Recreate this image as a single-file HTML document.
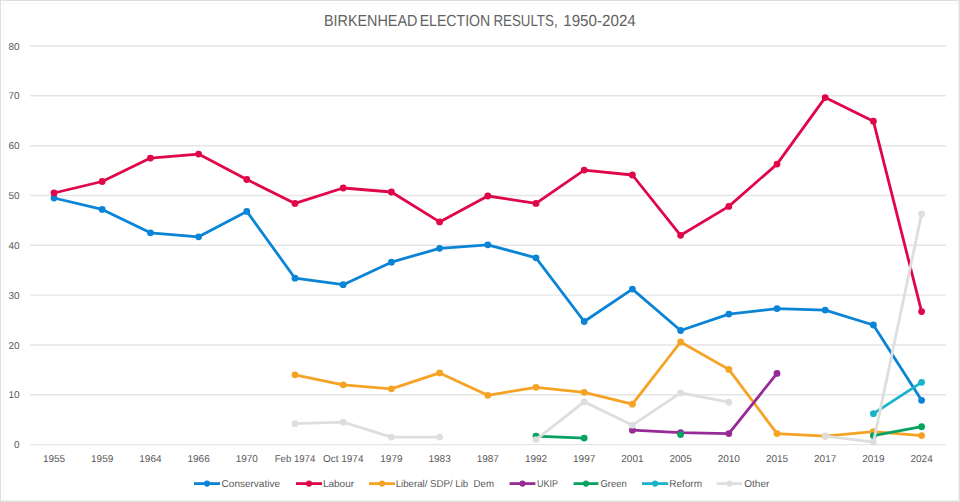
<!DOCTYPE html>
<html><head><meta charset="utf-8"><style>
html,body{margin:0;padding:0;background:#fff;}
body{width:960px;height:502px;overflow:hidden;position:relative;}
svg{position:absolute;left:0;top:0;display:block;}
text{font-family:"Liberation Sans",Arial,sans-serif;fill:#595959;text-rendering:geometricPrecision;}
</style></head><body>
<svg width="960" height="502" viewBox="0 0 960 502">
<rect x="0" y="0" width="960" height="502" fill="#fff"/>
<g shape-rendering="crispEdges">
<rect x="0" y="3" width="960" height="1" fill="#f8f8f8"/>
<rect x="3" y="0" width="1" height="502" fill="#f8f8f8"/>
<rect x="0" y="500" width="960" height="1" fill="#f1f1f1"/>
<rect x="958" y="0" width="1" height="502" fill="#f1f1f1"/>
<rect x="0" y="0" width="960" height="1" fill="#dedede"/>
<rect x="0" y="0" width="1" height="502" fill="#dedede"/>
<rect x="0" y="501" width="960" height="1" fill="#e0e0e0"/>
<rect x="959" y="0" width="1" height="502" fill="#e0e0e0"/>
</g>
<g font-size="16"><text y="25.8" style="fill:#626262"><tspan x="324" textLength="93.4" lengthAdjust="spacingAndGlyphs">BIRKENHEAD</tspan> <tspan x="419.7" textLength="70.6" lengthAdjust="spacingAndGlyphs">ELECTION</tspan> <tspan x="493.4" textLength="64.2" lengthAdjust="spacingAndGlyphs">RESULTS,</tspan> <tspan x="563.25" textLength="72.5" lengthAdjust="spacingAndGlyphs">1950-2024</tspan></text></g>
<g stroke="#e5e5e5" stroke-width="1.4">
<line x1="30" y1="444.6" x2="946" y2="444.6"/>
<line x1="30" y1="394.8" x2="946" y2="394.8"/>
<line x1="30" y1="345" x2="946" y2="345"/>
<line x1="30" y1="295.1" x2="946" y2="295.1"/>
<line x1="30" y1="245.3" x2="946" y2="245.3"/>
<line x1="30" y1="195.5" x2="946" y2="195.5"/>
<line x1="30" y1="145.7" x2="946" y2="145.7"/>
<line x1="30" y1="95.8" x2="946" y2="95.8"/>
<line x1="30" y1="46" x2="946" y2="46"/>
</g>
<g font-size="10" text-anchor="end">
<text x="19.5" y="448.1">0</text>
<text x="19.5" y="398.3">10</text>
<text x="19.5" y="348.5">20</text>
<text x="19.5" y="298.6">30</text>
<text x="19.5" y="248.8">40</text>
<text x="19.5" y="199">50</text>
<text x="19.5" y="149.2">60</text>
<text x="19.5" y="99.3">70</text>
<text x="19.5" y="49.5">80</text>
</g>
<g font-size="10" text-anchor="middle">
<text x="54" y="462">1955</text>
<text x="102.2" y="462">1959</text>
<text x="150.4" y="462">1964</text>
<text x="198.6" y="462">1966</text>
<text x="246.8" y="462">1970</text>
<text x="295" y="462" textLength="40.6" lengthAdjust="spacingAndGlyphs">Feb 1974</text>
<text x="343.2" y="462">Oct 1974</text>
<text x="391.4" y="462">1979</text>
<text x="439.6" y="462">1983</text>
<text x="487.8" y="462">1987</text>
<text x="536" y="462">1992</text>
<text x="584.2" y="462">1997</text>
<text x="632.4" y="462">2001</text>
<text x="680.6" y="462">2005</text>
<text x="728.8" y="462">2010</text>
<text x="777" y="462">2015</text>
<text x="825.2" y="462">2017</text>
<text x="873.4" y="462">2019</text>
<text x="921.6" y="462">2024</text>
</g>
<g stroke="#0a84d6" fill="#0a84d6">
<polyline fill="none" stroke-width="2.8" stroke-linejoin="round" stroke-linecap="round" points="54,198 102.2,209.4 150.4,232.8 198.6,236.8 246.8,211.4 295,278.2 343.2,284.7 391.4,262.2 439.6,248.3 487.8,244.8 536,257.8 584.2,321.5 632.4,289.1 680.6,330.5 728.8,314.1 777,308.6 825.2,310.1 873.4,325 921.6,400.3"/>
<circle cx="54" cy="198" r="3.4" stroke="none"/>
<circle cx="102.2" cy="209.4" r="3.4" stroke="none"/>
<circle cx="150.4" cy="232.8" r="3.4" stroke="none"/>
<circle cx="198.6" cy="236.8" r="3.4" stroke="none"/>
<circle cx="246.8" cy="211.4" r="3.4" stroke="none"/>
<circle cx="295" cy="278.2" r="3.4" stroke="none"/>
<circle cx="343.2" cy="284.7" r="3.4" stroke="none"/>
<circle cx="391.4" cy="262.2" r="3.4" stroke="none"/>
<circle cx="439.6" cy="248.3" r="3.4" stroke="none"/>
<circle cx="487.8" cy="244.8" r="3.4" stroke="none"/>
<circle cx="536" cy="257.8" r="3.4" stroke="none"/>
<circle cx="584.2" cy="321.5" r="3.4" stroke="none"/>
<circle cx="632.4" cy="289.1" r="3.4" stroke="none"/>
<circle cx="680.6" cy="330.5" r="3.4" stroke="none"/>
<circle cx="728.8" cy="314.1" r="3.4" stroke="none"/>
<circle cx="777" cy="308.6" r="3.4" stroke="none"/>
<circle cx="825.2" cy="310.1" r="3.4" stroke="none"/>
<circle cx="873.4" cy="325" r="3.4" stroke="none"/>
<circle cx="921.6" cy="400.3" r="3.4" stroke="none"/>
</g>
<g stroke="#e0064a" fill="#e0064a">
<polyline fill="none" stroke-width="2.8" stroke-linejoin="round" stroke-linecap="round" points="54,193 102.2,181.5 150.4,158.1 198.6,154.1 246.8,179.5 295,203.4 343.2,188 391.4,192 439.6,221.9 487.8,196 536,203.4 584.2,170.1 632.4,175 680.6,235.3 728.8,206.4 777,164.1 825.2,97.6 873.4,121.2 921.6,311.6"/>
<circle cx="54" cy="193" r="3.4" stroke="none"/>
<circle cx="102.2" cy="181.5" r="3.4" stroke="none"/>
<circle cx="150.4" cy="158.1" r="3.4" stroke="none"/>
<circle cx="198.6" cy="154.1" r="3.4" stroke="none"/>
<circle cx="246.8" cy="179.5" r="3.4" stroke="none"/>
<circle cx="295" cy="203.4" r="3.4" stroke="none"/>
<circle cx="343.2" cy="188" r="3.4" stroke="none"/>
<circle cx="391.4" cy="192" r="3.4" stroke="none"/>
<circle cx="439.6" cy="221.9" r="3.4" stroke="none"/>
<circle cx="487.8" cy="196" r="3.4" stroke="none"/>
<circle cx="536" cy="203.4" r="3.4" stroke="none"/>
<circle cx="584.2" cy="170.1" r="3.4" stroke="none"/>
<circle cx="632.4" cy="175" r="3.4" stroke="none"/>
<circle cx="680.6" cy="235.3" r="3.4" stroke="none"/>
<circle cx="728.8" cy="206.4" r="3.4" stroke="none"/>
<circle cx="777" cy="164.1" r="3.4" stroke="none"/>
<circle cx="825.2" cy="97.6" r="3.4" stroke="none"/>
<circle cx="873.4" cy="121.2" r="3.4" stroke="none"/>
<circle cx="921.6" cy="311.6" r="3.4" stroke="none"/>
</g>
<g stroke="#f6a224" fill="#f6a224">
<polyline fill="none" stroke-width="2.8" stroke-linejoin="round" stroke-linecap="round" points="295,374.8 343.2,384.8 391.4,388.8 439.6,372.9 487.8,395.3 536,387.3 584.2,392.3 632.4,404.2 680.6,342 728.8,369.4 777,433.6 825.2,436.1 873.4,431.6 921.6,435.6"/>
<circle cx="295" cy="374.8" r="3.4" stroke="none"/>
<circle cx="343.2" cy="384.8" r="3.4" stroke="none"/>
<circle cx="391.4" cy="388.8" r="3.4" stroke="none"/>
<circle cx="439.6" cy="372.9" r="3.4" stroke="none"/>
<circle cx="487.8" cy="395.3" r="3.4" stroke="none"/>
<circle cx="536" cy="387.3" r="3.4" stroke="none"/>
<circle cx="584.2" cy="392.3" r="3.4" stroke="none"/>
<circle cx="632.4" cy="404.2" r="3.4" stroke="none"/>
<circle cx="680.6" cy="342" r="3.4" stroke="none"/>
<circle cx="728.8" cy="369.4" r="3.4" stroke="none"/>
<circle cx="777" cy="433.6" r="3.4" stroke="none"/>
<circle cx="825.2" cy="436.1" r="3.4" stroke="none"/>
<circle cx="873.4" cy="431.6" r="3.4" stroke="none"/>
<circle cx="921.6" cy="435.6" r="3.4" stroke="none"/>
</g>
<g stroke="#962a96" fill="#962a96">
<polyline fill="none" stroke-width="2.8" stroke-linejoin="round" stroke-linecap="round" points="632.4,430.2 680.6,432.6 728.8,433.6 777,373.4"/>
<circle cx="632.4" cy="430.2" r="3.4" stroke="none"/>
<circle cx="680.6" cy="432.6" r="3.4" stroke="none"/>
<circle cx="728.8" cy="433.6" r="3.4" stroke="none"/>
<circle cx="777" cy="373.4" r="3.4" stroke="none"/>
</g>
<g stroke="#06a260" fill="#06a260">
<polyline fill="none" stroke-width="2.8" stroke-linejoin="round" stroke-linecap="round" points="536,436.1 584.2,438.1"/>
<polyline fill="none" stroke-width="2.8" stroke-linejoin="round" stroke-linecap="round" points="873.4,435.6 921.6,426.7"/>
<circle cx="536" cy="436.1" r="3.4" stroke="none"/>
<circle cx="584.2" cy="438.1" r="3.4" stroke="none"/>
<circle cx="680.6" cy="434.6" r="3.4" stroke="none"/>
<circle cx="873.4" cy="435.6" r="3.4" stroke="none"/>
<circle cx="921.6" cy="426.7" r="3.4" stroke="none"/>
</g>
<g stroke="#19b4cc" fill="#19b4cc">
<polyline fill="none" stroke-width="2.8" stroke-linejoin="round" stroke-linecap="round" points="873.4,413.7 921.6,382.3"/>
<circle cx="873.4" cy="413.7" r="3.4" stroke="none"/>
<circle cx="921.6" cy="382.3" r="3.4" stroke="none"/>
</g>
<g stroke="#dedede" fill="#dedede">
<polyline fill="none" stroke-width="2.8" stroke-linejoin="round" stroke-linecap="round" points="295,423.7 343.2,422.2 391.4,437.1 439.6,437.1"/>
<polyline fill="none" stroke-width="2.8" stroke-linejoin="round" stroke-linecap="round" points="536,439.6 584.2,401.8 632.4,425.2 680.6,392.8 728.8,402.2"/>
<polyline fill="none" stroke-width="2.8" stroke-linejoin="round" stroke-linecap="round" points="825.2,436.1 873.4,442.1 921.6,213.9"/>
<circle cx="295" cy="423.7" r="3.4" stroke="none"/>
<circle cx="343.2" cy="422.2" r="3.4" stroke="none"/>
<circle cx="391.4" cy="437.1" r="3.4" stroke="none"/>
<circle cx="439.6" cy="437.1" r="3.4" stroke="none"/>
<circle cx="536" cy="439.6" r="3.4" stroke="none"/>
<circle cx="584.2" cy="401.8" r="3.4" stroke="none"/>
<circle cx="632.4" cy="425.2" r="3.4" stroke="none"/>
<circle cx="680.6" cy="392.8" r="3.4" stroke="none"/>
<circle cx="728.8" cy="402.2" r="3.4" stroke="none"/>
<circle cx="825.2" cy="436.1" r="3.4" stroke="none"/>
<circle cx="873.4" cy="442.1" r="3.4" stroke="none"/>
<circle cx="921.6" cy="213.9" r="3.4" stroke="none"/>
</g>
<g font-size="10">
<line x1="194" y1="483.6" x2="220" y2="483.6" stroke="#0a84d6" stroke-width="2.8"/>
<circle cx="207" cy="483.6" r="3.1" fill="#0a84d6"/>
<text x="221.6" y="487.1">Conservative</text>
<line x1="296" y1="483.6" x2="322" y2="483.6" stroke="#e0064a" stroke-width="2.8"/>
<circle cx="309" cy="483.6" r="3.1" fill="#e0064a"/>
<text x="322.9" y="487.1">Labour</text>
<line x1="369" y1="483.6" x2="395" y2="483.6" stroke="#f6a224" stroke-width="2.8"/>
<circle cx="382" cy="483.6" r="3.1" fill="#f6a224"/>
<text x="395.7" y="487.1" textLength="98.3" lengthAdjust="spacingAndGlyphs">Liberal/ SDP/ Lib  Dem</text>
<line x1="509.5" y1="483.6" x2="535.4" y2="483.6" stroke="#962a96" stroke-width="2.8"/>
<circle cx="522.5" cy="483.6" r="3.1" fill="#962a96"/>
<text x="537.1" y="487.1" textLength="21" lengthAdjust="spacingAndGlyphs">UKIP</text>
<line x1="573.6" y1="483.6" x2="598.4" y2="483.6" stroke="#06a260" stroke-width="2.8"/>
<circle cx="586" cy="483.6" r="3.1" fill="#06a260"/>
<text x="600.5" y="487.1" textLength="26.3" lengthAdjust="spacingAndGlyphs">Green</text>
<line x1="642" y1="483.6" x2="668.2" y2="483.6" stroke="#19b4cc" stroke-width="2.8"/>
<circle cx="655.1" cy="483.6" r="3.1" fill="#19b4cc"/>
<text x="669.2" y="487.1">Reform</text>
<line x1="716.7" y1="483.6" x2="742.2" y2="483.6" stroke="#dedede" stroke-width="2.8"/>
<circle cx="729.5" cy="483.6" r="3.1" fill="#dedede"/>
<text x="744.3" y="487.1">Other</text>
</g>
</svg>
</body></html>
